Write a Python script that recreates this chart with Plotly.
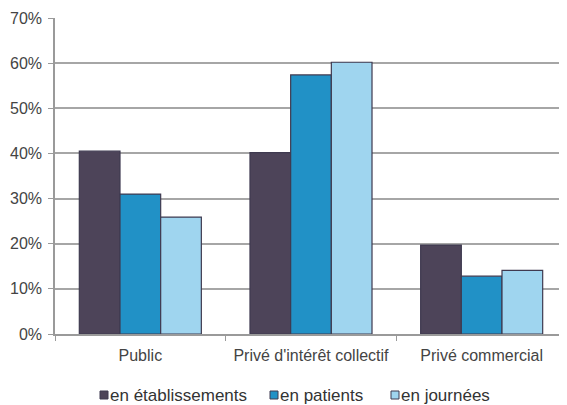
import plotly.graph_objects as go

categories = ["Public", "Privé d'intérêt collectif", "Privé commercial"]
series_names = ["en établissements", "en patients", "en journées"]
etablissements = [40.5, 40.2, 19.7]
patients = [31.0, 57.4, 12.8]
journees = [25.9, 60.2, 14.1]
colors = ["#4d4459", "#2191c6", "#9fd5ef"]

# the page body adds an 8px offset; figure is sized to fit the 567x405 window
OFF = 8
W, H = 567 - OFF, 405 - OFF
ML, MR, MT, MB = 55 - OFF, 0, 18 - OFF, 71
pw, ph = W - ML - MR, H - MT - MB

fig = go.Figure()
for name, vals, col in zip(series_names, [etablissements, patients, journees], colors):
    fig.add_trace(go.Bar(
        x=categories, y=vals, name=name, showlegend=False,
        marker=dict(color=col, line=dict(color="#3f3a50", width=1.2)),
    ))

# custom legend (square glued to text, as in the reference); positions in page px
legend_px = [100, 270, 391]
for name, col, px in zip(series_names, colors, legend_px):
    fx = px - OFF
    fig.add_shape(type="rect", xref="paper", yref="paper",
                  x0=(fx - ML) / pw, x1=(fx + 8 - ML) / pw,
                  y0=(MT + ph - (399 - OFF)) / ph, y1=(MT + ph - (391 - OFF)) / ph,
                  fillcolor=col, line=dict(color="#3f3a50", width=1))
    fig.add_annotation(xref="paper", yref="paper", x=(fx + 8.5 - ML) / pw,
                       y=(MT + ph - (395 - OFF)) / ph, text=name, showarrow=False,
                       xanchor="left", yanchor="middle",
                       font=dict(size=17, color="#333333"), borderpad=0)

fig.update_layout(
    width=W, height=H,
    margin=dict(l=ML, r=MR, t=MT, b=MB, pad=0),
    plot_bgcolor="white", paper_bgcolor="white",
    barmode="group", bargap=0.285, bargroupgap=0,
    font=dict(family="Liberation Sans, Arial, sans-serif", size=15, color="#444444"),
    showlegend=False,
    xaxis=dict(showline=True, linecolor="#9a9a9a", linewidth=1.5, automargin=False,
               ticks="outside", tickson="boundaries", ticklen=5, tickcolor="#9a9a9a",
               ticklabelstandoff=6,
               tickfont=dict(size=16, color="#444444")),
    yaxis=dict(range=[0, 70], dtick=10, ticksuffix="%", automargin=False,
               showline=True, linecolor="#9a9a9a", linewidth=1.5,
               ticks="outside", ticklen=5, tickcolor="#9a9a9a", ticklabelstandoff=3,
               showgrid=True, gridcolor="#a6a6a6", gridwidth=1.5,
               zeroline=False, tickfont=dict(size=16, color="#444444")),
)

fig.write_html("out.html")
